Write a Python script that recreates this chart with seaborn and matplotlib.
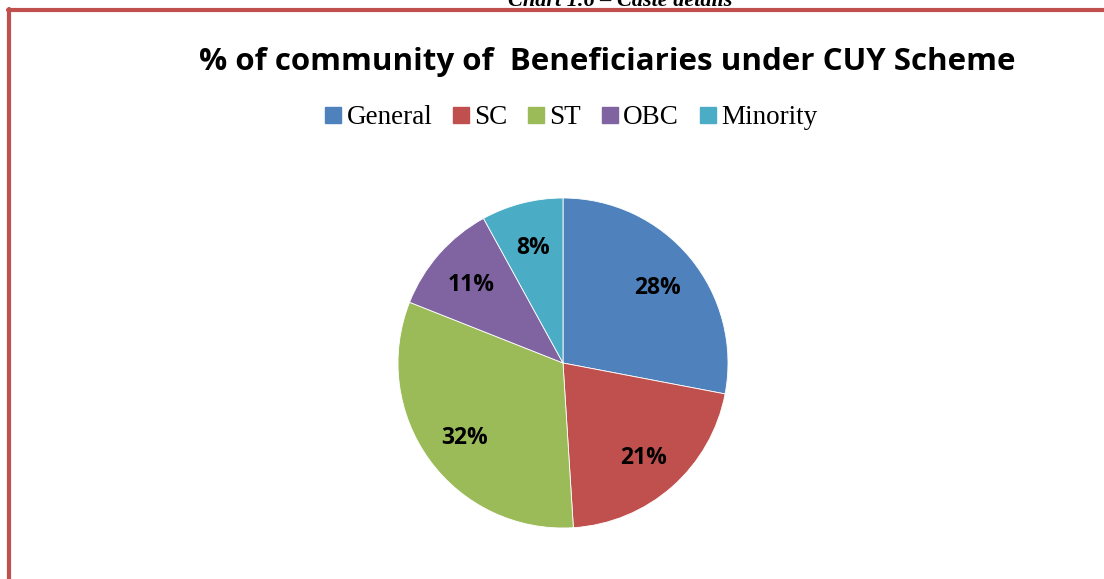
import matplotlib
matplotlib.use("Agg")
import matplotlib.pyplot as plt
import seaborn as sns
from matplotlib.lines import Line2D

sns.set_theme(style="white")
plt.rcParams["text.color"] = "black"

categories = ["General", "SC", "ST", "OBC", "Minority"]
values = [28, 21, 32, 11, 8]
colors = ["#4F81BD", "#C0504D", "#9BBB59", "#8064A2", "#4BACC6"]

W, H = 1104, 579
fig = plt.figure(figsize=(W / 100, H / 100), dpi=100)
fig.patch.set_facecolor("white")

cx, cy, R = 563, 363, 165
ax = fig.add_axes([(cx - R) / W, (H - cy - R) / H, 2 * R / W, 2 * R / H])
wedges, texts, autotexts = ax.pie(
    values, colors=colors, startangle=90, counterclock=False,
    autopct=lambda p: f"{p:.0f}%", pctdistance=0.74,
    wedgeprops=dict(edgecolor="white", linewidth=0.6),
    textprops=dict(fontsize=16.5, fontweight="bold", color="black", family="Open Sans"),
)
for t in autotexts:
    t.set_va("center_baseline")
ax.set_xlim(-1, 1)
ax.set_ylim(-1, 1)
ax.axis("off")

fig.text(607 / W, 1 - 62 / H, "% of community of  Beneficiaries under CUY Scheme",
         ha="center", va="center", fontsize=22.5, fontweight="bold", family="Open Sans",
         color="black")

fig.text(620 / W, 1 - 1 / H, "Chart 1.6 – Caste details", ha="center", va="center",
         fontsize=16, fontweight="bold", style="italic", family="Liberation Serif",
         color="black")

handles = [Line2D([0], [0], marker="s", linestyle="none", markersize=11,
                  markerfacecolor=c, markeredgecolor=c) for c in colors]
fig.legend(handles, categories, loc="center", bbox_to_anchor=(567 / W, 1 - 118 / H),
           ncol=5, frameon=False, handletextpad=-0.1, columnspacing=0.45,
           handlelength=1.2, prop=dict(family="Liberation Serif", size=19.5),
           labelcolor="black")

red = "#C0504D"
fig.add_artist(Line2D([9 / W, 9 / W], [0, 1 - 9 / H], transform=fig.transFigure,
                      color=red, linewidth=3))
fig.add_artist(Line2D([8 / W, 1], [1 - 10 / H, 1 - 10 / H], transform=fig.transFigure,
                      color=red, linewidth=3))

fig.savefig("out.png", dpi=100, facecolor="white")
